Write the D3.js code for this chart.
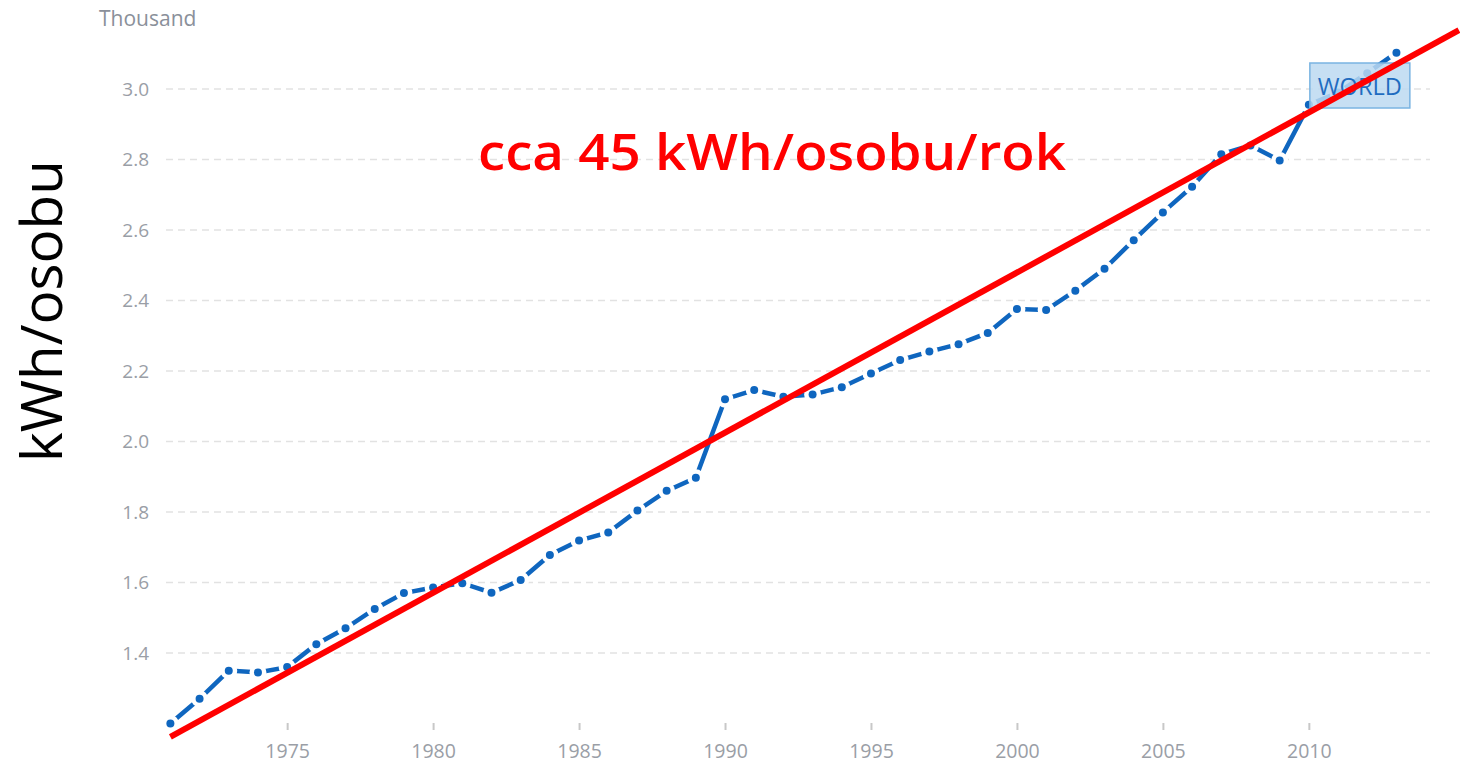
<!DOCTYPE html>
<html>
<head>
<meta charset="utf-8">
<script src="https://cdn.jsdelivr.net/npm/d3@7"></script>
<style>
  body { margin: 0; background: #fff; }
  #container { width: 1460px; height: 763px; }
</style>
</head>
<body>
<div id="container"></div>
<script>
// data (thousand kWh per person)
let years = [1971, 1972, 1973, 1974, 1975, 1976, 1977, 1978, 1979, 1980,
  1981, 1982, 1983, 1984, 1985, 1986, 1987, 1988, 1989, 1990,
  1991, 1992, 1993, 1994, 1995, 1996, 1997, 1998, 1999, 2000,
  2001, 2002, 2003, 2004, 2005, 2006, 2007, 2008, 2009, 2010,
  2011, 2012, 2013];
let values = [1.20, 1.27, 1.35, 1.345, 1.36, 1.425, 1.47, 1.525, 1.57, 1.586,
  1.598, 1.571, 1.607, 1.678, 1.719, 1.742, 1.804, 1.86, 1.897, 2.12,
  2.146, 2.127, 2.133, 2.154, 2.193, 2.231, 2.255, 2.276, 2.308, 2.376,
  2.373, 2.428, 2.49, 2.571, 2.65, 2.723, 2.815, 2.84, 2.797, 2.955,
  2.99, 3.045, 3.103];
let yTicks = [1.4, 1.6, 1.8, 2.0, 2.2, 2.4, 2.6, 2.8, 3.0];
let xTicks = [1975, 1980, 1985, 1990, 1995, 2000, 2005, 2010];
// hand-drawn trend line ends (year, value)
let trendYears = [1971, 2015.14];
let trendValues = [1.162, 3.167];

let viz = d3.select("#container")
  .append("svg")
    .attr("width", 1460)
    .attr("height", 763)
  ;

let x = d3.scaleLinear().domain([1970.85, 2014.15]).range([166, 1430]);
let y = d3.scaleLinear().domain([1.2, 3.0]).range([723.5, 89]);

// grid lines
viz.append("g")
  .selectAll("line").data(yTicks).enter()
  .append("line")
    .attr("x1", 166)
    .attr("x2", 1430)
    .attr("y1", d => y(d))
    .attr("y2", d => y(d))
    .attr("stroke", "#e2e2e2")
    .attr("stroke-width", 1.5)
    .attr("stroke-dasharray", "7,5")
;

// y axis labels
let yAxis = viz.append("g")
    .attr("transform", "translate(149,0)")
    .call(d3.axisLeft(y).tickValues(yTicks).tickSize(0).tickPadding(0).tickFormat(d3.format(".1f")));
yAxis.select(".domain").remove();
yAxis.selectAll("text")
    .attr("fill", "#9a9ea6")
    .attr("font-family", "Open Sans")
    .attr("font-size", 19);

// x axis
let xAxis = viz.append("g")
    .attr("transform", "translate(0,723)")
    .call(d3.axisBottom(x).tickValues(xTicks).tickSize(7).tickPadding(14).tickFormat(d3.format("d")));
xAxis.select(".domain").remove();
xAxis.selectAll("line").attr("stroke", "#c8c8c8").attr("stroke-width", 2);
xAxis.selectAll("text")
    .attr("fill", "#9a9ea6")
    .attr("font-family", "Open Sans")
    .attr("font-size", 19.5);

viz.append("text")
    .attr("x", 99)
    .attr("y", 26)
    .attr("fill", "#8a909a")
    .attr("font-family", "Open Sans")
    .attr("font-size", 21)
    .text("Thousand");

// world series
let points = years.map((yr, i) => [yr, values[i]]);
let line = d3.line().x(d => x(d[0])).y(d => y(d[1]));

viz.append("path")
    .datum(points)
    .attr("d", line)
    .attr("fill", "none")
    .attr("stroke", "#0f66bf")
    .attr("stroke-width", 4.5);

viz.append("g")
  .selectAll("circle").data(points).enter()
  .append("circle")
    .attr("cx", d => x(d[0]))
    .attr("cy", d => y(d[1]))
    .attr("r", 4)
    .attr("fill", "#0f66bf")
    .attr("stroke", "#fff")
    .attr("stroke-width", 9)
    .attr("paint-order", "stroke")
;

// WORLD label box
let lab = viz.append("g")
    .attr("transform", "translate(" + (x(2010) + 1) + "," + (y(3.0) - 26) + ")");
lab.append("rect")
    .attr("width", 100)
    .attr("height", 45)
    .attr("fill", "#bcd9f1")
    .attr("fill-opacity", 0.85)
    .attr("stroke", "#7ab4e2")
    .attr("stroke-width", 1.5);
lab.append("text")
    .attr("x", 50)
    .attr("y", 32)
    .attr("text-anchor", "middle")
    .attr("fill", "#1f6cc0")
    .attr("font-family", "Open Sans")
    .attr("font-size", 23)
    .attr("textLength", 84)
    .attr("lengthAdjust", "spacingAndGlyphs")
    .text("WORLD");

// red trend line
viz.append("line")
    .attr("x1", x(trendYears[0]))
    .attr("y1", y(trendValues[0]))
    .attr("x2", x(trendYears[1]))
    .attr("y2", y(trendValues[1]))
    .attr("stroke", "#ff0000")
    .attr("stroke-width", 6);

viz.append("text")
    .attr("x", 478)
    .attr("y", 170)
    .attr("fill", "#ff0000")
    .attr("font-family", "Open Sans")
    .attr("font-weight", 600)
    .attr("font-size", 50)
    .attr("textLength", 588)
    .attr("lengthAdjust", "spacingAndGlyphs")
    .text("cca 45 kWh/osobu/rok");

viz.append("text")
    .attr("transform", "translate(62,462) rotate(-90)")
    .attr("fill", "#000")
    .attr("font-family", "Open Sans")
    .attr("font-size", 56)
    .attr("textLength", 302)
    .attr("lengthAdjust", "spacingAndGlyphs")
    .text("kWh/osobu");
</script>
</body>
</html>
